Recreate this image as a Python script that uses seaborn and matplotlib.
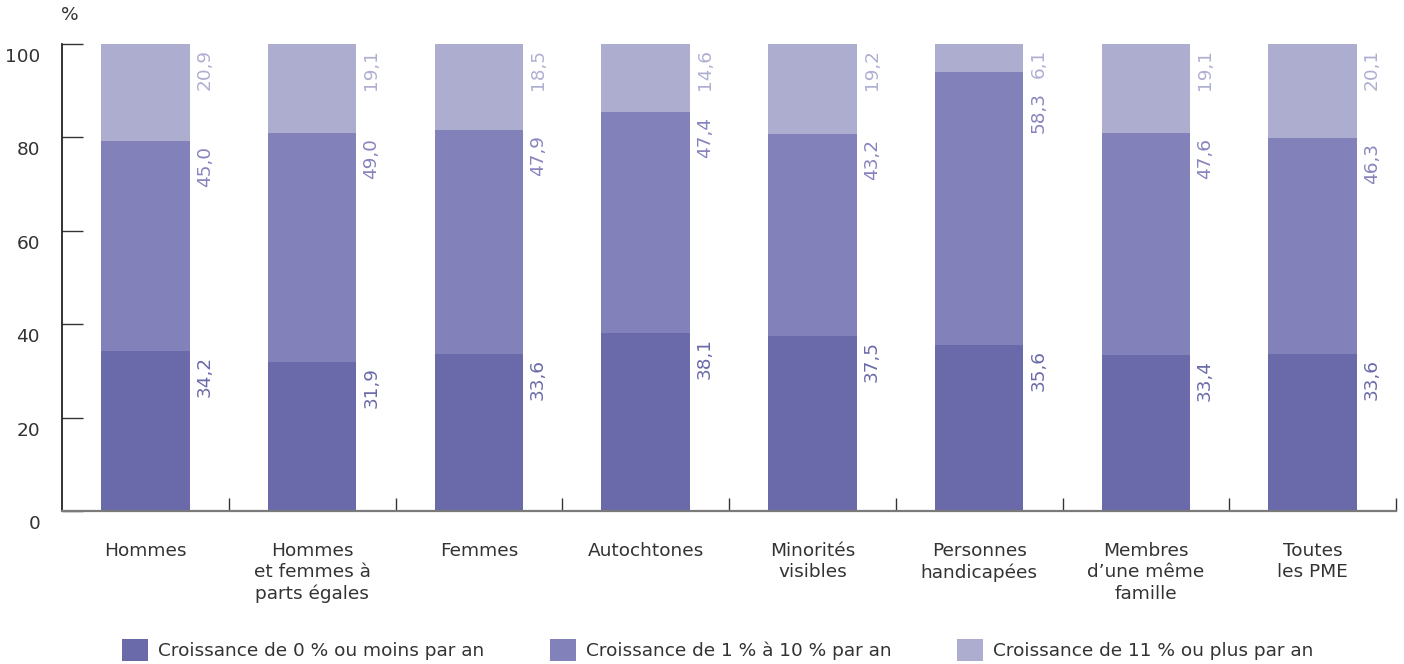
import matplotlib
matplotlib.use("Agg")
import matplotlib.pyplot as plt
import seaborn as sns
import numpy as np
from matplotlib.patches import Patch

categories = ["Hommes", "Hommes\net femmes à\nparts égales", "Femmes", "Autochtones",
              "Minorités\nvisibles", "Personnes\nhandicapées", "Membres\nd’une même\nfamille",
              "Toutes\nles PME"]
low = [34.2, 31.9, 33.6, 38.1, 37.5, 35.6, 33.4, 33.6]
mid = [45.0, 49.0, 47.9, 47.4, 43.2, 58.3, 47.6, 46.3]
high = [20.9, 19.1, 18.5, 14.6, 19.2, 6.1, 19.1, 20.1]
series_names = ["Croissance de 0 % ou moins par an",
                "Croissance de 1 % à 10 % par an",
                "Croissance de 11 % ou plus par an"]
yticks = [0, 20, 40, 60, 80, 100]

bar_colors = ["#6A6AAA", "#8281B9", "#ADADD0"]
label_colors = ["#6A6AAA", "#8784BE", "#AFAFD2"]
text_color = "#333333"

sns.set_theme(style="white")
plt.rcParams['font.family'] = ['DejaVu Sans']
FS = 13.3

fig = plt.figure(figsize=(14.04, 6.64), dpi=100)
W, H = 1404, 664
ax = fig.add_axes([62 / W, 1 - 511 / H, (1396 - 62) / W, (511 - 44) / H])

low_a = np.array(low)
mid_a = np.array(mid)
high_a = np.array(high)
c1 = low_a
c2 = low_a + mid_a
c3 = low_a + mid_a + high_a

for vals, col in zip([c3, c2, c1], bar_colors[::-1]):
    sns.barplot(x=categories, y=vals, color=col, width=0.53, saturation=1,
                linewidth=0, ax=ax, errorbar=None)

ax.set_xlim(-0.5, len(categories) - 0.5)
ax.set_ylim(0, 100)

# value labels
px = 100 / 467.0
labels = []
for i in range(len(categories)):
    row = []
    for top, v, lc in zip([c1[i], c2[i], min(c3[i], 100)], [low[i], mid[i], high[i]], label_colors):
        t = ax.text(i + 0.355, top - 5 * px, f"{v:.1f}".replace(".", ","), rotation=90,
                    rotation_mode="anchor", ha="right", va="center", color=lc,
                    fontsize=FS, clip_on=False)
        row.append(t)
    labels.append(row)

fig.canvas.draw()
r = fig.canvas.get_renderer()
for row in labels:
    # push a label down if it collides with the one above it
    for k in (1, 0):
        lower, upper = row[k], row[k + 1]
        bl = lower.get_window_extent(r)
        bu = upper.get_window_extent(r)
        gap = 14
        if bl.y1 > bu.y0 - gap:
            shift = (bl.y1 - (bu.y0 - gap)) * px
            x, y = lower.get_position()
            lower.set_position((x, y - shift))

# spines
for s in ["top", "right"]:
    ax.spines[s].set_visible(False)
ax.spines["left"].set_color("#111111")
ax.spines["left"].set_linewidth(1.2)
ax.spines["bottom"].set_color("#7a7a7a")
ax.spines["bottom"].set_linewidth(1.6)

# y ticks
ax.set_yticks(yticks)
ax.set_yticklabels([])
ax.tick_params(axis="y", direction="in", length=15, width=1.0, color="#333333", left=True)
for t in yticks:
    ax.text(-22 / 1334, t - 13 * px, str(t), transform=ax.get_yaxis_transform(),
            ha="right", va="center", fontsize=FS, color=text_color)

# x ticks
ax.set_xticks(range(len(categories)))
ax.set_xticklabels(categories, fontsize=FS, color=text_color, linespacing=1.25, va="top")
ax.tick_params(axis="x", which="major", length=0, pad=22)
ax.set_xticks(np.arange(0.5, len(categories), 1.0), minor=True)
ax.tick_params(axis="x", which="minor", direction="in", length=9.5, width=1.0,
               color="#333333", bottom=True)
ax.set_xlabel("")
ax.set_ylabel("")

fig.text(70 / W, 1 - 15 / H, "%", ha="center", va="center", fontsize=FS, color=text_color)

# legend
handles = [Patch(facecolor=c, edgecolor="none") for c in bar_colors]
fig.legend(handles, series_names, loc="center left", bbox_to_anchor=(122 / W, 14 / H),
           ncol=3, frameon=False, fontsize=FS, handlelength=1.4, handleheight=1.4,
           handletextpad=0.54, columnspacing=3.57, borderpad=0, borderaxespad=0,
           labelcolor=text_color)

fig.savefig("out.png", dpi=100)
